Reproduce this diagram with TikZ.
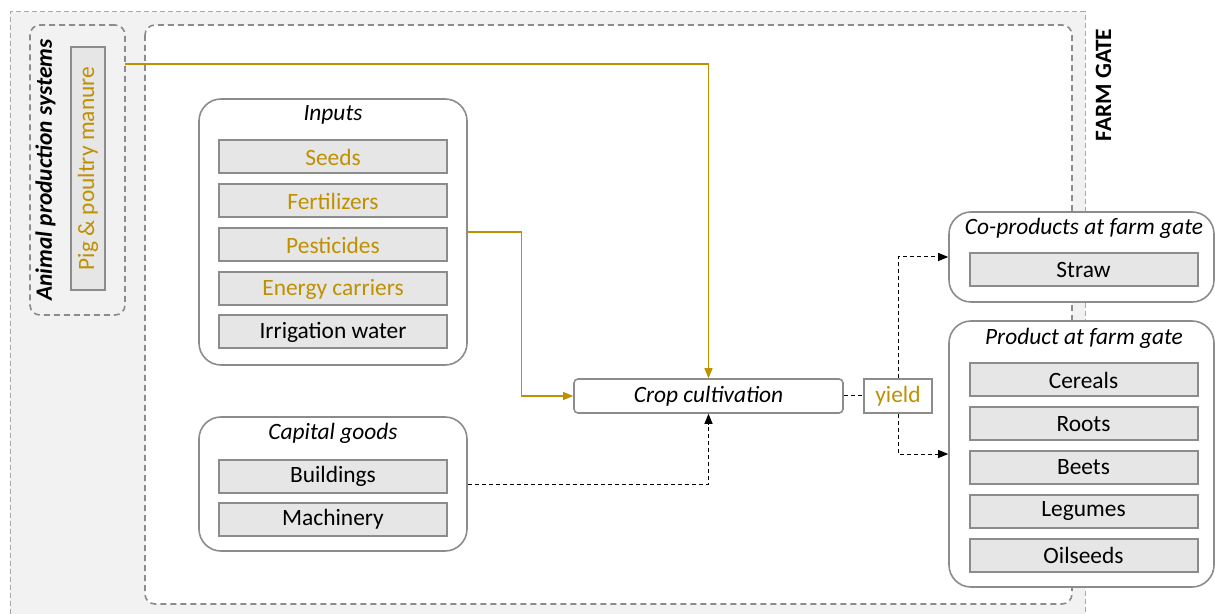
\documentclass[tikz,border=0pt]{standalone}
\usepackage{fontspec}
\setmainfont{Carlito}
\usetikzlibrary{arrows.meta}

\definecolor{gold}{HTML}{BF9000}
\definecolor{panel}{HTML}{F2F2F2}
\definecolor{itemfill}{HTML}{E6E6E6}
\definecolor{edgegray}{HTML}{8C8C8C}
\definecolor{dashgray}{HTML}{A6A6A6}

\newcommand{\diagfont}{\fontsize{11.7}{14}\selectfont}

\begin{document}
\begin{tikzpicture}[x=0.5pt, y=-0.5pt, font=\diagfont,
    item/.style={draw=edgegray, fill=itemfill, line width=1pt, minimum width=114pt, minimum height=16.5pt, inner sep=0pt},
    group/.style={draw=edgegray, fill=white, line width=0.8pt, rounded corners=11pt, inner sep=0pt},
    grouptitle/.style={font=\diagfont\itshape},
    farmdash/.style={draw=edgegray, line width=0.8pt, dash pattern=on 3pt off 2pt, rounded corners=5pt},
    goldline/.style={draw=gold, line width=0.6pt, -{Triangle[length=5pt,width=4pt]}},
    flowdash/.style={draw=black, line width=0.5pt, dash pattern=on 2pt off 1.5pt},
    flowarrow/.style={flowdash, -{Triangle[length=5pt,width=4pt]}}]

  \useasboundingbox (0,0) rectangle (1215,614);

  % grey zone outside the farm gate
  \fill[panel] (10,12) rectangle (1085,614);
  \draw[dashgray, line width=0.5pt, dash pattern=on 2.5pt off 1.5pt] (10,614) -- (10,12) -- (1085,12) -- (1085,614);
  \node[rotate=90, font=\diagfont\bfseries] (gate) at (1103.5,85) {FARM GATE};

  % farm (white, dashed)
  \draw[farmdash, fill=white] (145,25) rectangle (1072,604);

  % animal production systems
  \node[farmdash, fill=panel, minimum width=47.5pt, minimum height=145pt] (animal) at (77.5,170) {};
  \node[rotate=90, font=\diagfont\bfseries\itshape] (animaltitle) at (45.5,170) {Animal production systems};
  \node[item, rotate=90, text=gold, minimum width=121.5pt, minimum height=17pt] (manure) at (88,168.5) {Pig \& poultry manure};
  \coordinate (mtap) at (125,64);

  % inputs
  \node[group, minimum width=134pt, minimum height=133pt] (inputs) at (333,232) {};
  \node[grouptitle] (inputstitle) at (333,115) {Inputs};
  \foreach \name/\txt/\y/\col in {seeds/Seeds/157/gold, fert/Fertilizers/201/gold,
      pest/Pesticides/245/gold, energy/Energy carriers/289/gold, water/Irrigation water/332/black}
    \node[item, text=\col] (\name) at (333,\y) {\txt};

  % capital goods
  \node[group, minimum width=134pt, minimum height=67pt] (capital) at (333,484) {};
  \node[grouptitle] (capitaltitle) at (333,433) {Capital goods};
  \node[item] (build) at (333,476) {Buildings};
  \node[item] (mach) at (333,519) {Machinery};

  % crop cultivation and yield
  \node[draw=edgegray, fill=white, line width=0.8pt, rounded corners=2pt, minimum width=134.5pt, minimum height=17pt,
        inner sep=0pt, font=\diagfont\itshape] (crop) at (708.5,396) {Crop cultivation};
  \node[draw=edgegray, fill=white, line width=0.8pt, text=gold, minimum width=34pt, minimum height=17pt, inner sep=0pt] (yield) at (898,396) {yield};

  % co-products
  \node[group, minimum width=132.5pt, minimum height=45pt] (coprod) at (1081.5,257) {};
  \node[grouptitle] (coprodtitle) at (1084,228) {Co-products at farm gate};
  \node[item] (straw) at (1083.5,270) {Straw};

  % products
  \node[group, minimum width=132.5pt, minimum height=133pt] (product) at (1081.5,454) {};
  \node[grouptitle] (producttitle) at (1084,338) {Product at farm gate};
  \foreach \name/\txt/\y in {cereals/Cereals/380, roots/Roots/424, beets/Beets/467,
      legumes/Legumes/511, oilseeds/Oilseeds/555}
    \node[item] (\name) at (1083.5,\y) {\txt};

  % flows
  \draw[goldline] (mtap) -| (crop.north);
  \draw[goldline] (inputs.east) -- ++(54,0) |- (crop.west);
  \draw[flowarrow] (capital.east) -| (crop.south);
  \draw[flowdash] (crop.east) -- (yield.west);
  \draw[flowarrow] (yield.north) |- (coprod.west);
  \draw[flowarrow] (yield.south) |- (product.west);

\end{tikzpicture}
\end{document}
